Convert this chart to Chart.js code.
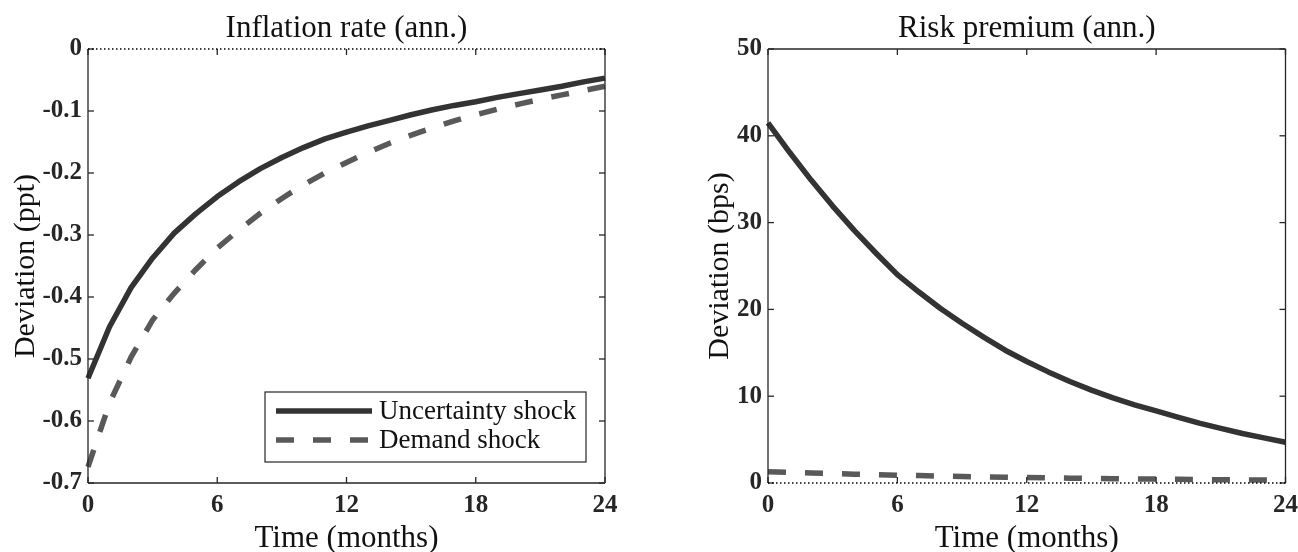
<!DOCTYPE html>
<html>
<head>
<meta charset="utf-8">
<script src="https://cdn.jsdelivr.net/npm/chart.js@4.4.1/dist/chart.umd.min.js"></script>
<style>
  body { margin: 0; background: #fff; }
  .panel { position: absolute; top: 0; width: 649px; height: 552px; }
</style>
</head>
<body>
<div class="panel" style="left:0"><canvas id="inflChart" width="649" height="552"></canvas></div>
<div class="panel" style="left:649px"><canvas id="riskChart" width="649" height="552"></canvas></div>
<script>
// horizon in months
const months = [0,1,2,3,4,5,6,7,8,9,10,11,12,13,14,15,16,17,18,19,20,21,22,23,24];
const xTicks = [0, 6, 12, 18, 24];

// inflation rate (ppt)
const inflUncertainty = [-0.531,-0.448,-0.385,-0.337,-0.297,-0.266,-0.238,-0.214,-0.193,-0.175,-0.159,-0.145,-0.134,-0.124,-0.115,-0.106,-0.098,-0.091,-0.085,-0.078,-0.072,-0.066,-0.060,-0.053,-0.047];
const inflDemand = [-0.674,-0.571,-0.497,-0.437,-0.394,-0.356,-0.321,-0.292,-0.265,-0.241,-0.219,-0.200,-0.183,-0.167,-0.152,-0.139,-0.127,-0.116,-0.106,-0.097,-0.089,-0.081,-0.074,-0.067,-0.060];
const inflTicks = [-0.7, -0.6, -0.5, -0.4, -0.3, -0.2, -0.1, 0];

// risk premium (bps)
const riskUncertainty = [41.5,38.1,34.9,31.9,29.1,26.5,24.0,22.0,20.1,18.4,16.8,15.3,14.0,12.8,11.7,10.7,9.8,9.0,8.3,7.6,6.9,6.3,5.7,5.2,4.7];
const riskDemand = [1.30,1.22,1.15,1.08,1.02,0.96,0.90,0.85,0.80,0.75,0.71,0.67,0.63,0.60,0.56,0.53,0.50,0.47,0.45,0.42,0.40,0.38,0.36,0.34,0.32];
const riskTicks = [0, 10, 20, 30, 40, 50];

const seriesNames = ['Uncertainty shock', 'Demand shock'];

const SERIF = "'Liberation Serif', 'Times New Roman', serif";
const INK = '#262626';

// matlab style box: full frame, inward ticks on all 4 sides, dotted zero line
const boxPlugin = {
  id: 'matlabBox',
  afterDatasetsDraw(chart) {
    const { ctx, chartArea: { left, right, top, bottom }, scales: { x, y } } = chart;
    const y0 = y.getPixelForValue(0);
    const seg = (x1, y1, x2, y2) => { ctx.beginPath(); ctx.moveTo(x1, y1); ctx.lineTo(x2, y2); ctx.stroke(); };
    ctx.save();
    ctx.strokeStyle = INK;
    ctx.lineWidth = 1.3;
    seg(left, top, left, bottom);
    seg(right, top, right, bottom);
    if (Math.abs(y0 - top) > 1) seg(left, top, right, top);
    if (Math.abs(y0 - bottom) > 1) seg(left, bottom, right, bottom);
    x.ticks.forEach(t => {
      const px = x.getPixelForValue(t.value);
      seg(px, bottom, px, bottom - 6);
      seg(px, top, px, top + 6);
    });
    y.ticks.forEach(t => {
      const py = y.getPixelForValue(t.value);
      seg(left, py, left + 6, py);
      seg(right, py, right - 6, py);
    });
    ctx.setLineDash([1.5, 2.5]);
    ctx.strokeStyle = '#000';
    ctx.lineWidth = 1.3;
    seg(left, y0, right, y0);
    ctx.restore();
  }
};

// legend drawn inside the plot, lower right
const boxLegend = {
  id: 'boxLegend',
  afterDraw(chart, args, opts) {
    if (!opts.display) return;
    const { ctx, chartArea } = chart;
    const w = 321, h = 70;
    const bx = chartArea.right - 19 - w;
    const by = chartArea.bottom - 21 - h;
    ctx.save();
    ctx.fillStyle = '#fff';
    ctx.fillRect(bx, by, w, h);
    ctx.strokeStyle = INK;
    ctx.lineWidth = 1.2;
    ctx.strokeRect(bx, by, w, h);
    ctx.font = '27px ' + SERIF;
    ctx.textBaseline = 'middle';
    chart.data.datasets.forEach((ds, i) => {
      const ly = by + 19 + i * 29;
      ctx.strokeStyle = ds.borderColor;
      ctx.lineWidth = ds.borderWidth;
      ctx.setLineDash(ds.borderDash || []);
      ctx.beginPath();
      ctx.moveTo(bx + 11, ly);
      ctx.lineTo(bx + 107, ly);
      ctx.stroke();
      ctx.setLineDash([]);
      ctx.fillStyle = '#111';
      ctx.fillText(ds.label, bx + 114, ly + 1);
    });
    ctx.restore();
  }
};

function pts(vals) {
  return months.map((m, i) => ({ x: m, y: vals[i] }));
}

function lineSets(solid, dashed) {
  return [
    { label: seriesNames[0], data: pts(solid), borderColor: '#333333', borderWidth: 5.5,
      pointRadius: 0, tension: 0, borderJoinStyle: 'round', clip: 4 },
    { label: seriesNames[1], data: pts(dashed), borderColor: '#595959', borderWidth: 5.5,
      borderDash: [18, 19], borderCapStyle: 'butt', pointRadius: 0, tension: 0, clip: 4 }
  ];
}

function makeChart(id, cfg) {
  return new Chart(document.getElementById(id), {
    type: 'line',
    data: { datasets: lineSets(cfg.solid, cfg.dashed) },
    plugins: [boxPlugin, boxLegend],
    options: {
      responsive: false,
      animation: false,
      devicePixelRatio: 1,
      layout: { padding: { left: 0, right: cfg.padRight, top: 0, bottom: 0 } },
      plugins: {
        legend: { display: false },
        tooltip: { enabled: false },
        boxLegend: { display: cfg.legend },
        title: {
          display: true,
          text: cfg.title,
          fullSize: false,
          color: '#111',
          font: { family: SERIF, size: 31, weight: 'normal', lineHeight: 1.2 },
          padding: { top: 10, bottom: 1.8 }
        }
      },
      scales: {
        x: {
          type: 'linear',
          min: 0, max: 24,
          afterBuildTicks: s => { s.ticks = xTicks.map(v => ({ value: v })); },
          afterFit: s => { s.height = 69; },
          grid: { display: false },
          border: { display: false },
          ticks: { color: INK, padding: 0, maxRotation: 0,
                   font: { family: SERIF, size: 25, weight: 'bold', lineHeight: 1.2 } },
          title: { display: true, text: 'Time (months)', color: '#111', padding: 0,
                   font: { family: SERIF, size: 31, weight: 'normal', lineHeight: 0.85 } }
        },
        y: {
          min: cfg.yTicks[0], max: cfg.yTicks[cfg.yTicks.length - 1],
          afterBuildTicks: s => { s.ticks = cfg.yTicks.map(v => ({ value: v })); },
          afterFit: s => { s.width = cfg.yWidth; },
          grid: { display: false, tickLength: 0 },
          border: { display: false },
          ticks: { color: INK, padding: 6, callback: v => String(v),
                   font: { family: SERIF, size: 25, weight: 'bold', lineHeight: 1.2 } },
          title: { display: true, text: cfg.yTitle, color: '#111', padding: { top: cfg.yTitlePad, bottom: 0 },
                   font: { family: SERIF, size: 30, weight: 'normal', lineHeight: 1 } }
        }
      }
    }
  });
}

makeChart('inflChart', {
  title: 'Inflation rate (ann.)', yTitle: 'Deviation (ppt)',
  solid: inflUncertainty, dashed: inflDemand, yTicks: inflTicks,
  yWidth: 88, yTitlePad: 11, padRight: 44, legend: true
});

makeChart('riskChart', {
  title: 'Risk premium (ann.)', yTitle: 'Deviation (bps)',
  solid: riskUncertainty, dashed: riskDemand, yTicks: riskTicks,
  yWidth: 119, yTitlePad: 56, padRight: 7, legend: false
});
</script>
</body>
</html>
